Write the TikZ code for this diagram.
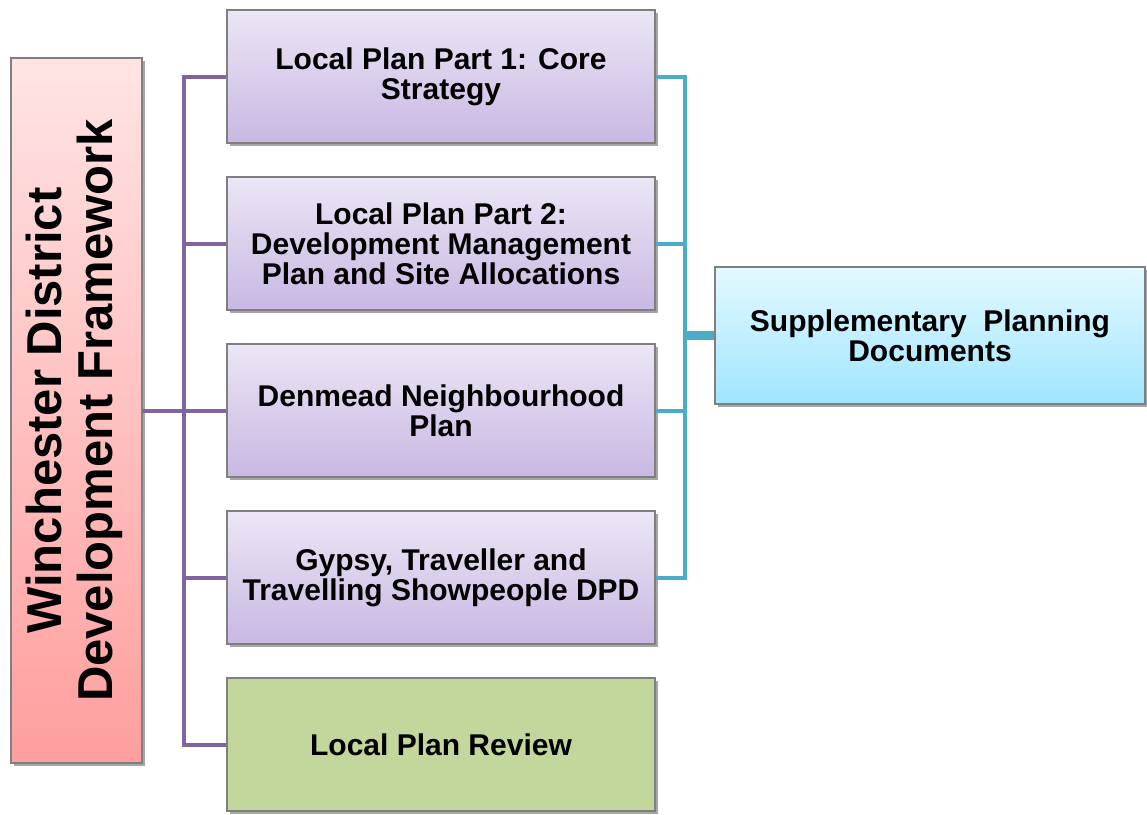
\documentclass[tikz,border=0pt]{standalone}
\usepackage{fontspec}
\setmainfont{Liberation Sans}
\usetikzlibrary{shadows}
\definecolor{pline}{HTML}{8064A2}
\definecolor{tline}{HTML}{4BACC6}
\definecolor{lavtop}{HTML}{ECE6F5}
\definecolor{lavbot}{HTML}{C8B8E3}
\definecolor{greenfill}{HTML}{C3D69B}
\definecolor{pinktop}{HTML}{FFE4E4}
\definecolor{pinkbot}{HTML}{FF9E9E}
\definecolor{bluetop}{HTML}{E4F9FF}
\definecolor{bluebot}{HTML}{9FE5FF}
\definecolor{edgegrey}{HTML}{7F7F7F}
\tikzset{
  boxbase/.style={draw=edgegrey, line width=1.2pt, align=center, inner sep=0pt,
    font=\fontsize{30}{30}\selectfont\bfseries,
    drop shadow={shadow xshift=2.5pt, shadow yshift=-3pt, opacity=0.35, fill=black}},
  planbox/.style={boxbase, top color=lavtop, bottom color=lavbot,
    minimum width=428pt, minimum height=133pt},
  reviewbox/.style={boxbase, fill=greenfill, minimum width=428pt, minimum height=133pt},
  leftbox/.style={boxbase, top color=pinktop, bottom color=pinkbot,
    minimum width=131pt, minimum height=705pt},
  suppbox/.style={boxbase, top color=bluetop, bottom color=bluebot,
    minimum width=430pt, minimum height=137pt},
  purplelink/.style={draw=pline, line width=4pt},
  teallink/.style={draw=tline, line width=4pt},
}
\begin{document}
\begin{tikzpicture}[x=1pt, y=-1pt]
\useasboundingbox (0,0) rectangle (1147,814);
\coordinate (trunk) at (184,410.5);
\coordinate (hub) at (685,335.5);
\node[leftbox] (left) at (76.5,410.5)
  {\rotatebox{90}{\fontsize{49}{51}\selectfont\bfseries\begin{tabular}{@{}c@{}}Winchester District\\Development Framework\end{tabular}}};
\node[planbox] (b1) at (441,76.5) {Local Plan Part 1: Core\\Strategy};
\node[planbox] (b2) at (441,243.5) {Local Plan Part 2:\\Development Management\\Plan and Site Allocations};
\node[planbox] (b3) at (441,410.5) {Denmead Neighbourhood\\Plan};
\node[planbox] (b4) at (441,577.5) {Gypsy, Traveller and\\Travelling Showpeople DPD};
\node[reviewbox] (b5) at (441,744.5) {Local Plan Review};
\node[suppbox] (supp) at (930,335.5) {Supplementary\ \ Planning\\Documents};
\draw[purplelink] (left.east) -- (trunk);
\draw[purplelink] (trunk) |- (b1.west);
\draw[purplelink] (trunk) |- (b2.west);
\draw[purplelink] (trunk) -- (b3.west);
\draw[purplelink] (trunk) |- (b4.west);
\draw[purplelink] (trunk) |- (b5.west);
\draw[teallink] (b1.east) -| (hub);
\draw[teallink] (b2.east) -| (hub);
\draw[teallink] (b3.east) -| (hub);
\draw[teallink] (b4.east) -| (hub);
\draw[draw=tline, line width=9pt] (hub) -- (supp.west);
\end{tikzpicture}
\end{document}
